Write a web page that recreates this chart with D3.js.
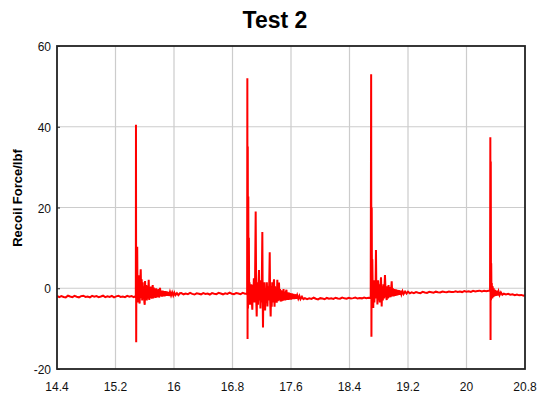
<!DOCTYPE html>
<html>
<head>
<meta charset="utf-8">
<script src="https://cdn.jsdelivr.net/npm/d3@7"></script>
<style>
  body { margin: 0; background: #fff; }
  text { font-family: "Liberation Sans", Arial, sans-serif; }
</style>
</head>
<body>
<svg id="chart" width="539" height="398"></svg>
<script>
// time (s), recoil force (lbf)
const quiet1 = [[14.40,-1.9],[14.43,-2.2],[14.46,-1.95],[14.49,-2.15],[14.52,-2.25],[14.55,-1.85],[14.58,-2.05],[14.61,-2.2],[14.64,-1.9],[14.67,-2.1],[14.70,-2.25],[14.73,-1.95],[14.76,-1.85],[14.79,-2.15],[14.82,-2.05],[14.85,-2.25],[14.88,-1.9],[14.91,-2.1],[14.94,-1.95],[14.97,-2.2],[15.00,-2.05],[15.03,-1.85],[15.06,-2.2],[15.09,-2.0],[15.12,-2.15],[15.15,-1.9],[15.18,-2.25],[15.21,-2.0],[15.24,-1.85],[15.27,-2.15],[15.30,-2.05],[15.33,-2.2],[15.36,-1.9],[15.39,-2.1],[15.42,-1.95],[15.45,-2.2]];

const shot1 = [[15.470,-2.0],[15.478,-2.2],[15.480,40.5],[15.483,-13.4],[15.486,6],[15.490,-3],[15.494,2],[15.497,10.3],[15.501,-2.5],[15.506,1.5],[15.512,-3.5],[15.518,3.2],[15.524,-1.0],[15.530,-3.8],[15.537,1.0],[15.545,4.7],[15.552,-2.5],[15.558,2.2],[15.565,-3.0],[15.572,1.5],[15.580,-2.0],[15.588,0.5],[15.595,-3.5],[15.600,-4.1],[15.604,1.8],[15.612,-2.5],[15.620,0.8],[15.628,-3.0],[15.636,0.6],[15.644,-2.6],[15.654,2.1],[15.662,-2.9],[15.670,0.3],[15.678,-2.4],[15.686,0.4],[15.694,-2.6],[15.709,0.8],[15.716,-2.5],[15.724,0.2],[15.732,-2.3],[15.740,-0.1],[15.748,-2.4],[15.756,0.0],[15.764,-2.3],[15.772,-0.3],[15.780,-2.2],[15.788,-0.2],[15.796,-2.3],[15.809,0.1],[15.818,-2.0],[15.827,-0.6],[15.836,-2.1],[15.845,-0.6],[15.854,-2.0],[15.863,-0.7],[15.872,-2.0],[15.881,-0.7],[15.890,-1.9],[15.900,-0.8],[15.910,-1.9],[15.920,-0.9],[15.930,-1.9],[15.945,-0.9],[15.960,-1.8],[15.975,-1.0],[15.990,-1.8],[16.005,-1.1],[16.020,-1.7],[16.040,-1.2],[16.060,-1.7],[16.080,-1.25]];

const quiet2 = [[16.10,-1.2],[16.13,-1.5],[16.16,-1.3],[16.19,-1.45],[16.22,-1.15],[16.25,-1.4],[16.28,-1.55],[16.31,-1.25],[16.34,-1.35],[16.37,-1.5],[16.40,-1.2],[16.43,-1.4],[16.46,-1.3],[16.49,-1.55],[16.52,-1.2],[16.55,-1.35],[16.58,-1.45],[16.61,-1.15],[16.64,-1.3],[16.67,-1.5],[16.70,-1.25],[16.73,-1.4],[16.76,-1.1],[16.79,-1.35],[16.82,-1.45],[16.85,-1.2],[16.88,-1.3],[16.91,-1.45],[16.94,-1.15],[16.97,-1.35]];

const shot2 = [[16.990,-1.3],[17.000,-1.5],[17.003,52.0],[17.006,-12.6],[17.009,35.1],[17.012,-5.0],[17.016,22.7],[17.020,-3.5],[17.024,12.5],[17.028,-2.0],[17.033,1.5],[17.039,-4.1],[17.045,0.5],[17.052,-2.5],[17.058,1.0],[17.064,-3.0],[17.071,-5.3],[17.078,0.8],[17.085,-2.0],[17.092,2.5],[17.100,-3.5],[17.108,1.0],[17.117,19.0],[17.124,-2.0],[17.131,-7.0],[17.138,1.5],[17.144,-2.5],[17.149,-4.1],[17.155,0.5],[17.162,4.5],[17.168,-3.0],[17.175,2.0],[17.182,-5.0],[17.190,1.0],[17.198,-3.5],[17.208,13.9],[17.213,-2.5],[17.217,-9.7],[17.223,0.5],[17.230,-4.0],[17.238,1.5],[17.246,-5.5],[17.254,0.0],[17.262,-3.5],[17.270,1.5],[17.278,-4.5],[17.286,0.5],[17.294,-3.0],[17.302,1.0],[17.309,8.9],[17.315,-3.0],[17.322,-7.0],[17.329,0.5],[17.336,-4.6],[17.343,1.5],[17.350,-3.5],[17.358,0.5],[17.368,2.2],[17.375,-4.6],[17.382,0.5],[17.390,-3.5],[17.398,0.0],[17.405,-3.6],[17.413,2.1],[17.420,-3.2],[17.428,0.0],[17.436,1.4],[17.443,-3.0],[17.450,-0.2],[17.458,-3.3],[17.466,-0.5],[17.474,-3.2],[17.482,-0.6],[17.490,-3.1],[17.498,-0.2],[17.506,-3.0],[17.514,-0.8],[17.522,-3.0],[17.530,-0.9],[17.538,-0.4],[17.546,-2.9],[17.555,-1.0],[17.564,-2.9],[17.573,-1.1],[17.582,-2.8],[17.592,-1.2],[17.602,-2.8],[17.612,-1.3],[17.622,-2.7],[17.634,-1.4],[17.646,-2.7],[17.658,-1.5],[17.670,-2.6],[17.685,-1.7],[17.700,-2.6],[17.715,-1.9],[17.730,-2.7],[17.750,-2.1],[17.770,-2.7]];

const quiet3 = [[17.79,-2.45],[17.82,-2.7],[17.85,-2.5],[17.88,-2.65],[17.91,-2.35],[17.94,-2.6],[17.97,-2.75],[18.00,-2.45],[18.03,-2.55],[18.06,-2.7],[18.09,-2.4],[18.12,-2.6],[18.15,-2.5],[18.18,-2.65],[18.21,-2.35],[18.24,-2.55],[18.27,-2.6],[18.30,-2.3],[18.33,-2.5],[18.36,-2.6],[18.39,-2.35],[18.42,-2.55],[18.45,-2.45],[18.48,-2.3],[18.51,-2.55],[18.54,-2.4],[18.57,-2.5],[18.60,-2.3],[18.63,-2.45],[18.66,-2.35]];

const shot3 = [[18.690,-2.4],[18.696,53.0],[18.700,-12.0],[18.704,20],[18.708,-3],[18.712,7.2],[18.718,-1],[18.725,-4.9],[18.732,2.0],[18.740,-3.5],[18.748,1.0],[18.755,-2.5],[18.762,9.5],[18.768,-2.0],[18.775,1.5],[18.782,-4.0],[18.790,2.0],[18.798,-3.0],[18.806,1.0],[18.814,-3.5],[18.822,0.5],[18.831,2.7],[18.840,-4.5],[18.848,0.5],[18.856,-3.0],[18.864,1.0],[18.872,-2.5],[18.885,3.3],[18.895,-1.5],[18.909,-2.9],[18.918,0.5],[18.926,-2.5],[18.934,0.8],[18.944,-2.3],[18.952,0.3],[18.962,-2.2],[18.977,1.7],[18.986,-2.0],[18.995,0.0],[19.004,-2.0],[19.014,-0.2],[19.024,-1.9],[19.034,-0.3],[19.044,-1.8],[19.054,-0.4],[19.064,-1.7],[19.075,-0.5],[19.086,-1.6],[19.098,-0.6],[19.110,-1.5],[19.125,-0.7],[19.140,-1.4],[19.160,-0.8],[19.180,-1.3],[19.200,-0.85],[19.225,-1.25]];

const quiet4 = [[19.25,-1.0],[19.28,-1.2],[19.31,-0.95],[19.34,-1.1],[19.37,-1.2],[19.40,-0.9],[19.43,-1.05],[19.46,-1.15],[19.49,-0.9],[19.52,-1.0],[19.55,-1.1],[19.58,-0.85],[19.61,-1.0],[19.64,-1.05],[19.67,-0.8],[19.70,-0.95],[19.73,-1.0],[19.76,-0.8],[19.79,-0.9],[19.82,-0.95],[19.85,-0.75],[19.88,-0.9],[19.91,-0.8],[19.94,-0.95],[19.97,-0.7],[20.00,-0.85],[20.03,-0.75],[20.06,-0.9],[20.09,-0.65],[20.12,-0.8],[20.15,-0.7],[20.18,-0.6],[20.21,-0.8],[20.24,-0.65],[20.27,-0.75],[20.30,-0.6]];

const shot4 = [[20.322,-0.6],[20.326,37.4],[20.329,-12.8],[20.332,31.4],[20.335,-3.0],[20.338,6.2],[20.342,-2.0],[20.346,1.3],[20.352,-2.5],[20.358,0.5],[20.365,-2.2],[20.372,0.0],[20.380,-2.0],[20.390,-0.4],[20.400,-1.9],[20.412,-0.6],[20.424,-1.8],[20.438,-0.8],[20.452,-1.7],[20.470,-1.0],[20.490,-1.6]];

const quiet5 = [[20.51,-1.35],[20.54,-1.55],[20.57,-1.4],[20.60,-1.6],[20.63,-1.5],[20.66,-1.7],[20.69,-1.55],[20.72,-1.75],[20.75,-1.65],[20.78,-1.85],[20.80,-1.75]];

const xTicks = [14.4, 15.2, 16, 16.8, 17.6, 18.4, 19.2, 20, 20.8];
const yTicks = [-20, 0, 20, 40, 60];

const trace = [].concat(quiet1, shot1, quiet2, shot2, quiet3, shot3, quiet4, shot4, quiet5);

const svg = d3.select("#chart");
const margin = { top: 46, right: 14, bottom: 29, left: 57 };
const width = 539;
const height = 398;

const x = d3.scaleLinear()
  .domain([14.4, 20.8])
  .range([margin.left, width - margin.right]);

const y = d3.scaleLinear()
  .domain([-20, 60])
  .range([height - margin.bottom, margin.top]);

// grid
svg.append("g")
  .selectAll("line")
  .data(xTicks.slice(1, -1))
  .join("line")
  .attr("x1", (d) => x(d)).attr("x2", (d) => x(d))
  .attr("y1", y(60)).attr("y2", y(-20))
  .attr("stroke", "#cccccc")
  .attr("stroke-width", 1.2);

svg.append("g")
  .selectAll("line")
  .data(yTicks.slice(1, -1))
  .join("line")
  .attr("x1", x(14.4)).attr("x2", x(20.8))
  .attr("y1", (d) => y(d)).attr("y2", (d) => y(d))
  .attr("stroke", "#cccccc")
  .attr("stroke-width", 1.2);

svg.append("clipPath")
  .attr("id", "plot")
  .append("rect")
  .attr("x", x(14.4)).attr("y", y(60))
  .attr("width", x(20.8) - x(14.4))
  .attr("height", y(-20) - y(60));

const line = d3.line()
  .x((d) => x(d[0]))
  .y((d) => y(d[1]));

svg.append("path")
  .datum(trace)
  .attr("clip-path", "url(#plot)")
  .attr("fill", "none")
  .attr("stroke", "#ff0000")
  .attr("stroke-width", 2)
  .attr("stroke-linejoin", "miter")
  .attr("d", line);

// frame
svg.append("rect")
  .attr("x", x(14.4)).attr("y", y(60))
  .attr("width", x(20.8) - x(14.4))
  .attr("height", y(-20) - y(60))
  .attr("fill", "none")
  .attr("stroke", "#222")
  .attr("stroke-width", 1.8);

// axes
svg.append("g")
  .attr("transform", `translate(${margin.left},0)`)
  .call(d3.axisRight(y).tickValues(yTicks).tickSize(3).tickFormat(() => ""))
  .call((g) => g.select(".domain").remove())
  .call((g) => g.selectAll(".tick line").attr("stroke", "#222"));

svg.append("g")
  .selectAll("text")
  .data(yTicks)
  .join("text")
  .attr("x", margin.left - 6)
  .attr("y", (d) => y(d) + 5)
  .attr("text-anchor", "end")
  .attr("font-size", "12px")
  .attr("fill", "#111")
  .text((d) => d);

svg.append("g")
  .selectAll("text")
  .data(xTicks)
  .join("text")
  .attr("x", (d) => x(d))
  .attr("y", 391)
  .attr("text-anchor", "middle")
  .attr("font-size", "12px")
  .attr("fill", "#111")
  .text((d) => d);

svg.append("text")
  .attr("x", 275)
  .attr("y", 28)
  .attr("text-anchor", "middle")
  .attr("font-size", "23px")
  .attr("font-weight", "bold")
  .text("Test 2");

svg.append("text")
  .attr("transform", "translate(22,198) rotate(-90)")
  .attr("text-anchor", "middle")
  .attr("font-size", "13px")
  .attr("font-weight", "bold")
  .text("Recoil Force/lbf");
</script>
</body>
</html>
